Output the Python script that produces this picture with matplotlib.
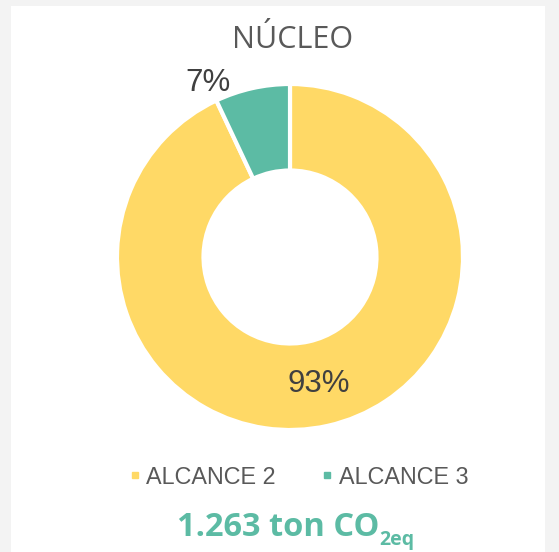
import numpy as np
import matplotlib.pyplot as plt
from matplotlib.patches import Rectangle
from matplotlib.lines import Line2D

labels = ["ALCANCE 2", "ALCANCE 3"]
values = [93, 7]
colors = ["#FFD966", "#5CBBA4"]
title = "NÚCLEO"
total_text = "1.263 ton CO"
total_sub = "2eq"

W, H = 559, 552
fig = plt.figure(figsize=(W / 100, H / 100), dpi=100, facecolor="#F3F3F3")

# white card behind everything
fig.patches.append(Rectangle((11 / W, 0), (545 - 11) / W, (552 - 6) / H,
                             transform=fig.transFigure, facecolor="white",
                             edgecolor="none", zorder=-5))

cx, cy, r = 290, 257, 173
ax = fig.add_axes([(cx - r) / W, (H - cy - r) / H, 2 * r / W, 2 * r / H])

wedges, _ = ax.pie(values, colors=colors, startangle=90, counterclock=False,
                   radius=1, wedgeprops=dict(width=0.5, edgecolor="white", linewidth=3))
ax.set_xlim(-1, 1)
ax.set_ylim(-1, 1)
ax.set_aspect("equal")
ax.axis("off")

for w, v in zip(wedges, values):
    if v >= 10:
        ang = np.deg2rad((w.theta1 + w.theta2) / 2)
        rr = 0.75
    else:
        ang = np.deg2rad(w.theta2)
        rr = 1.11
    ax.text(rr * np.cos(ang), rr * np.sin(ang), f"{v}%", ha="center", va="center",
            fontsize=22.5, color="#404040", family="Liberation Sans", clip_on=False)

fig.text(293 / W, 1 - 40 / H, title, ha="center", va="center", fontsize=22,
         color="#595959", family="Open Sans")

handles = [Line2D([], [], marker="s", linestyle="none", markersize=5,
                  markerfacecolor=c, markeredgecolor=c) for c in colors]
fig.legend(handles, labels, loc="center", bbox_to_anchor=(298 / W, 1 - 477 / H),
           ncol=2, frameon=False, handletextpad=0.2, columnspacing=1.9,
           handlelength=0.6, prop=dict(family="Liberation Sans", size=16.8),
           labelcolor="#595959")

t = fig.text(177 / W, 1 - 528 / H, total_text, ha="left", va="center", fontsize=23.5,
             color="#5CBBA4", family="Open Sans", weight="bold")
fig.add_artist(plt.Annotation(total_sub, xy=(1, 0), xycoords=t, xytext=(0, -4),
                              textcoords="offset points", ha="left", va="bottom",
                              fontsize=14, color="#5CBBA4", family="Open Sans",
                              weight="bold", annotation_clip=False))

fig.savefig("out.png", dpi=100, facecolor=fig.get_facecolor())
